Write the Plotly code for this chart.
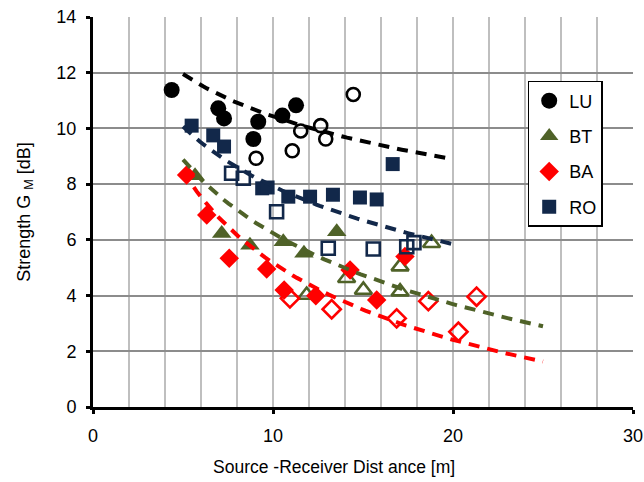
import numpy as np
import plotly.graph_objects as go

# ---- measured strength values: distance [m], G_M [dB] ----
lu_dist = [4.37, 6.96, 7.28, 9.18, 8.91, 10.52, 11.28]
lu_g = [11.38, 10.72, 10.36, 10.24, 9.62, 10.46, 10.83]
lu_open_dist = [9.06, 11.54, 11.07, 12.65, 12.93, 14.46]
lu_open_g = [8.93, 9.91, 9.20, 10.10, 9.62, 11.22]

bt_dist = [5.67, 7.15, 8.72, 10.57, 11.72, 13.54]
bt_g = [8.30, 6.23, 5.81, 5.93, 5.52, 6.29]
bt_open_dist = [11.87, 14.09, 15.02, 17.06, 17.06, 18.81]
bt_open_g = [4.02, 4.62, 4.20, 5.04, 4.14, 5.88]

ba_dist = [5.20, 6.32, 7.57, 9.65, 10.62, 12.38, 14.28, 15.76, 17.33]
ba_g = [8.33, 6.89, 5.34, 4.95, 4.20, 3.99, 4.92, 3.84, 5.40]
ba_open_dist = [10.94, 13.26, 16.87, 18.63, 20.30, 21.31]
ba_open_g = [3.90, 3.51, 3.18, 3.80, 2.70, 3.96]

ro_dist = [5.48, 6.68, 7.28, 9.40, 9.70, 10.85, 12.06, 13.33, 14.83, 15.76, 16.65]
ro_g = [10.10, 9.75, 9.35, 7.85, 7.88, 7.55, 7.55, 7.62, 7.52, 7.45, 8.72]
ro_open_dist = [7.70, 8.35, 10.20, 13.07, 15.57, 17.43, 17.83]
ro_open_g = [8.39, 8.21, 7.01, 5.70, 5.67, 5.75, 5.90]

# ---- predicted G_M versus distance (dashed curves) ----
lu_curve_d = [5.0, 6.6, 8.0, 9.3, 10.6, 11.9, 13.7, 15.9, 17.4, 20.0]
lu_curve_g = [11.95, 11.38, 10.90, 10.54, 10.30, 10.06, 9.77, 9.41, 9.22, 8.87]
bt_curve_d = [5.0, 7.06, 8.72, 11.13, 13.26, 15.94, 18.17, 19.7, 21.78, 22.98, 24.18, 25.0]
bt_curve_g = [8.85, 7.67, 6.71, 5.75, 5.10, 4.56, 4.08, 3.84, 3.40, 3.21, 2.97, 2.85]
ba_curve_d = [5.0, 5.94, 7.61, 7.98, 9.65, 10.67, 11.68, 14.09, 15.76, 17.98, 21.1, 22.4, 23.6, 25.0]
ba_curve_g = [8.40, 7.67, 6.41, 6.23, 5.28, 4.80, 4.44, 3.84, 3.24, 2.88, 2.29, 2.05, 1.78, 1.57]
ro_curve_d = [5.0, 5.94, 7.15, 11.68, 12.61, 12.98, 14.09, 15.2, 17.06, 20.0]
ro_curve_g = [10.05, 9.52, 9.00, 7.43, 7.19, 7.13, 6.89, 6.65, 6.35, 5.84]

C_LU = "#000000"
C_BT = "#4F6228"
C_BA = "#FF0000"
C_RO = "#12284A"

FONT = "Liberation Sans, Arial, sans-serif"
X_TITLE = "Source -Receiver Dist ance [m]"
Y_TITLE = "Strength G <sub>M</sub> [dB]"


def smooth_curve(d, g):
    """Quadratic fit in ln(distance) through the curve readings."""
    coef = np.polyfit(np.log(d), g, 2)
    xs = np.linspace(min(d), max(d), 80)
    return xs, np.polyval(coef, np.log(xs))


fig = go.Figure()

series = [
    ("LU", C_LU, "circle", 16, lu_dist, lu_g, "circle-open", 13, lu_open_dist, lu_open_g),
    ("BT", C_BT, "triangle-up", 17, bt_dist, bt_g, "triangle-up-open", 15, bt_open_dist, bt_open_g),
    ("BA", C_BA, "diamond", 15, ba_dist, ba_g, "diamond-open", 14, ba_open_dist, ba_open_g),
    ("RO", C_RO, "square", 14, ro_dist, ro_g, "square-open", 13, ro_open_dist, ro_open_g),
]

for name, col, sym, size, xd, yd, osym, osize, oxd, oyd in series:
    fig.add_trace(go.Scatter(
        x=xd, y=yd, mode="markers", name=name, legendgroup=name,
        marker=dict(symbol=sym, size=size, color=col, line=dict(width=0)),
    ))
    fig.add_trace(go.Scatter(
        x=oxd, y=oyd, mode="markers", name=name + " (open)", legendgroup=name,
        showlegend=False,
        marker=dict(symbol=osym, size=osize, color=col, line=dict(width=2.6, color=col)),
    ))

for d, g, col in [(lu_curve_d, lu_curve_g, C_LU), (bt_curve_d, bt_curve_g, C_BT),
                  (ba_curve_d, ba_curve_g, C_BA), (ro_curve_d, ro_curve_g, C_RO)]:
    xs, ys = smooth_curve(d, g)
    fig.add_trace(go.Scatter(
        x=xs, y=ys, mode="lines", showlegend=False, hoverinfo="skip",
        line=dict(color=col, width=4, dash="11px,8px"),
    ))

fig.update_layout(
    width=644, height=482,
    margin=dict(l=93, r=11, t=17, b=75),
    paper_bgcolor="white", plot_bgcolor="white",
    font=dict(family=FONT, size=18, color="black"),
    showlegend=True,
    legend=dict(
        x=0.805, y=0.836, xanchor="left", yanchor="top",
        bgcolor="white", bordercolor="black", borderwidth=1.5,
        font=dict(size=18), tracegroupgap=9,
    ),
    annotations=[dict(
        text=X_TITLE, xref="paper", yref="paper", x=0.446, y=-0.154,
        xanchor="center", yanchor="middle", showarrow=False,
        font=dict(family=FONT, size=17.5, color="black"),
    )],
)

fig.update_xaxes(
    range=[0, 30], dtick=10, tick0=0, automargin=False,
    showline=True, linecolor="black", linewidth=3,
    ticks="outside", ticklen=4, tickwidth=3, tickcolor="black",
    ticklabelstandoff=6,
    showgrid=True, gridcolor="#BFBFBF", gridwidth=2,
    minor=dict(dtick=2, showgrid=True, gridcolor="#BFBFBF", gridwidth=2, ticks=""),
    zeroline=False,
)
fig.update_yaxes(
    range=[0, 14], dtick=2, tick0=0, automargin=False,
    showline=True, linecolor="black", linewidth=3,
    ticks="outside", ticklen=4, tickwidth=3, tickcolor="black",
    ticklabelstandoff=6,
    showgrid=True, gridcolor="#8C8C8C", gridwidth=2,
    zeroline=False,
    title=dict(text=Y_TITLE, font=dict(size=18), standoff=22),
)

fig.write_html("out.html")
